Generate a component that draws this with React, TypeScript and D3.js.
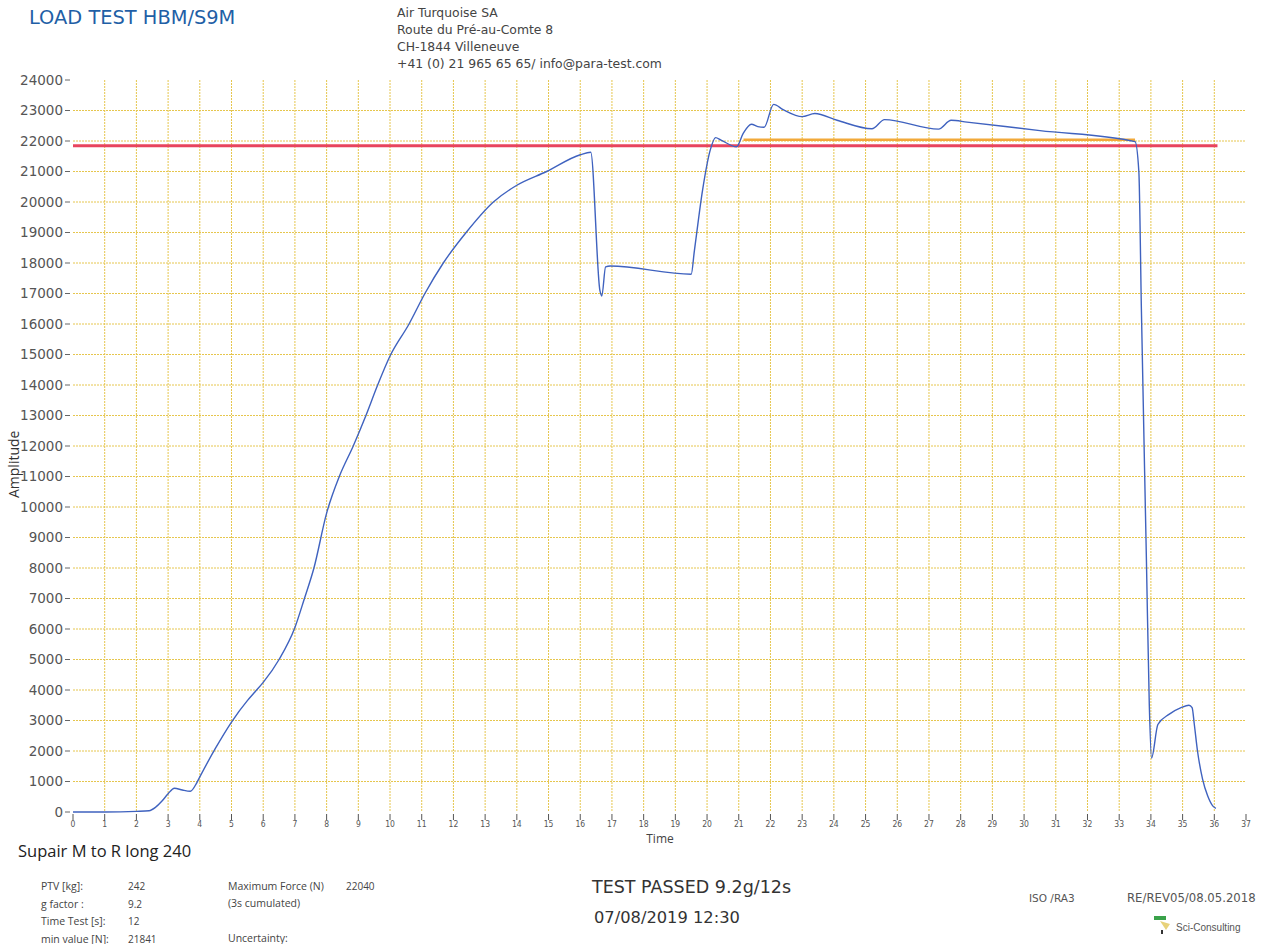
import React from "react";
import * as d3 from "d3";

const timeValues = [0, 1, 2, 2.4, 2.6, 2.8, 3.0, 3.2, 3.45, 3.7, 3.9, 4.0, 4.5, 5.0, 5.5, 5.75, 6.0, 6.5, 7.0, 7.3, 7.6, 8.0, 8.4, 8.84, 9.24, 9.61, 10.0, 10.6, 11.1, 11.68, 12.4, 13.26, 14.0, 14.94, 16.0, 16.33, 16.62, 16.68, 16.8, 16.95, 19.5, 19.6, 19.86, 20.1, 20.27, 20.44, 20.93, 21.14, 21.4, 21.6, 21.8, 22.1, 22.4, 23.0, 23.4, 24.1, 25.2, 25.6, 27.3, 27.7, 28.2, 30.5, 33.5, 33.62, 33.7, 33.86, 33.95, 34.02, 34.22, 34.57, 34.95, 35.2, 35.3, 35.37, 35.47, 35.63, 35.79, 35.95, 36.05];
const amplitudeValues = [0, 0, 20, 40, 150, 350, 600, 780, 720, 680, 950, 1150, 2100, 2950, 3650, 3950, 4250, 5000, 6050, 7000, 8000, 9800, 11000, 12000, 13000, 14000, 14950, 16000, 17000, 18000, 19000, 20000, 20550, 21000, 21550, 21630, 17100, 16920, 17870, 17900, 17630, 18400, 20400, 21700, 22110, 22030, 21810, 22250, 22550, 22470, 22450, 23200, 23030, 22800, 22900, 22680, 22400, 22700, 22390, 22680, 22620, 22340, 21980, 21000, 16500, 8200, 3500, 1770, 2870, 3200, 3420, 3500, 3420, 2870, 2000, 1080, 530, 200, 120];

const minValue = 21841;
const maxForce = 22040;
const maxForceSpan = [21.15, 33.5];
const minValueSpan = [0, 36.1];

const xTicks = d3.range(0, 38);
const yTicks = d3.range(0, 25000, 1000);
const xGrid = d3.range(1, 37);
const yGrid = d3.range(1000, 24000, 1000);

const addressLines = ["Air Turquoise SA", "Route du Pré-au-Comte 8", "CH-1844 Villeneuve", "+41 (0) 21 965 65 65/ info@para-test.com"];
const infoLeft: [string, string][] = [["PTV [kg]:", "242"], ["g factor :", "9.2"], ["Time Test [s]:", "12"], ["min value [N]:", "21841"]];

export default function App() {
  const x = d3.scaleLinear().domain([0, 37]).range([73, 1246]);
  const y = d3.scaleLinear().domain([0, 24000]).range([812, 80]);
  const pts = timeValues.map((t, i) => [t, amplitudeValues[i]] as [number, number]);
  const line = d3.line<[number, number]>().x(d => x(d[0])).y(d => y(d[1])).curve(d3.curveMonotoneX);
  const grid = "#e6c64e";
  const sans = "'DejaVu Sans', Verdana, sans-serif";
  const seg = "'Open Sans', 'Noto Sans', sans-serif";
  return (
    <svg width={1270} height={944} style={{ position: "absolute", left: 0, top: 0, background: "#fff" }}>
      <rect x={0} y={0} width={1270} height={944} fill="#fff" />
      <text x={29} y={24} fontFamily={sans} fontSize={19.4} fill="#1f5fa6">LOAD TEST HBM/S9M</text>
      {addressLines.map((s, i) => (
        <text key={i} x={397} y={17 + i * 17} fontFamily={sans} fontSize={12.4} fill="#444">{s}</text>
      ))}
      {/* grid */}
      {yGrid.map(v => (
        <line key={"h" + v} x1={x(0)} x2={x(37)} y1={y(v)} y2={y(v)} stroke={grid} strokeWidth={1} strokeDasharray="2,1" />
      ))}
      {xGrid.map(t => (
        <line key={"v" + t} x1={x(t)} x2={x(t)} y1={y(24000)} y2={y(0)} stroke={grid} strokeWidth={1} strokeDasharray="2,1" />
      ))}
      {/* y axis */}
      {yTicks.map(v => (
        <g key={"yt" + v}>
          <line x1={65} x2={70} y1={y(v)} y2={y(v)} stroke="#666" strokeWidth={1} />
          <text x={63} y={y(v)} dy="0.35em" textAnchor="end" fontFamily={sans} fontSize={13.5} fill="#555">{v}</text>
        </g>
      ))}
      {/* x axis */}
      {xTicks.map(t => (
        <g key={"xt" + t}>
          <line x1={x(t)} x2={x(t)} y1={814} y2={820} stroke="#555" strokeWidth={1} />
          <text x={x(t)} y={827} textAnchor="middle" fontFamily="'DejaVu Sans Condensed', 'DejaVu Sans', sans-serif" fontSize={8.5} fill="#555">{t}</text>
        </g>
      ))}
      <text x={660} y={843} textAnchor="middle" fontFamily={seg} fontSize={12} fill="#444">Time</text>
      <text transform={`translate(19,${y(11400)}) rotate(-90)`} textAnchor="middle" fontFamily={seg} fontSize={14} fill="#333">Amplitude</text>
      {/* reference lines */}
      <line x1={x(minValueSpan[0])} x2={x(minValueSpan[1])} y1={y(minValue)} y2={y(minValue)} stroke="#e8445e" strokeWidth={3} />
      <line x1={x(maxForceSpan[0])} x2={x(maxForceSpan[1])} y1={y(maxForce)} y2={y(maxForce)} stroke="#f2a93a" strokeWidth={2.5} />
      {/* data */}
      <path d={line(pts) || ""} fill="none" stroke="#3f62bf" strokeWidth={1.4} />
      {/* footer */}
      <text x={18} y={857} fontFamily={seg} fontSize={16.5} fill="#222">Supair M to R long 240</text>
      {infoLeft.map((r, i) => (
        <g key={"il" + i}>
          <text x={41} y={890 + i * 17.5} fontFamily={seg} fontSize={10.5} fill="#444">{r[0]}</text>
          <text x={128} y={890 + i * 17.5} fontFamily={seg} fontSize={10} fill="#444">{r[1]}</text>
        </g>
      ))}
      <text x={228} y={890} fontFamily={seg} fontSize={10.5} fill="#444">Maximum Force (N)</text>
      <text x={346} y={890} fontFamily={seg} fontSize={10} fill="#444">{maxForce}</text>
      <text x={228} y={907} fontFamily={seg} fontSize={10.5} fill="#444">(3s cumulated)</text>
      <text x={228} y={942} fontFamily={seg} fontSize={10.5} fill="#444">Uncertainty:</text>
      <text x={592} y={893} fontFamily={sans} fontSize={17.5} fill="#333">TEST PASSED 9.2g/12s</text>
      <text x={594} y={923} fontFamily={sans} fontSize={16.3} fill="#333">07/08/2019 12:30</text>
      <text x={1029} y={902} fontFamily={sans} fontSize={10.5} fill="#555">ISO /RA3</text>
      <text x={1127} y={902} fontFamily={sans} fontSize={11.7} fill="#555">RE/REV05/08.05.2018</text>
      <rect x={1154} y={916} width={12} height={4} fill="#3aa24a" />
      <path d="M1160,921 L1170,924 L1166,930 Z" fill="#e8d27a" />
      <line x1={1162} x2={1162} y1={930} y2={934} stroke="#333" strokeWidth={2} />
      <text x={1176} y={931} fontFamily="'Liberation Sans', Arial, sans-serif" fontSize={10} fill="#555">Sci-Consulting</text>
    </svg>
  );
}
